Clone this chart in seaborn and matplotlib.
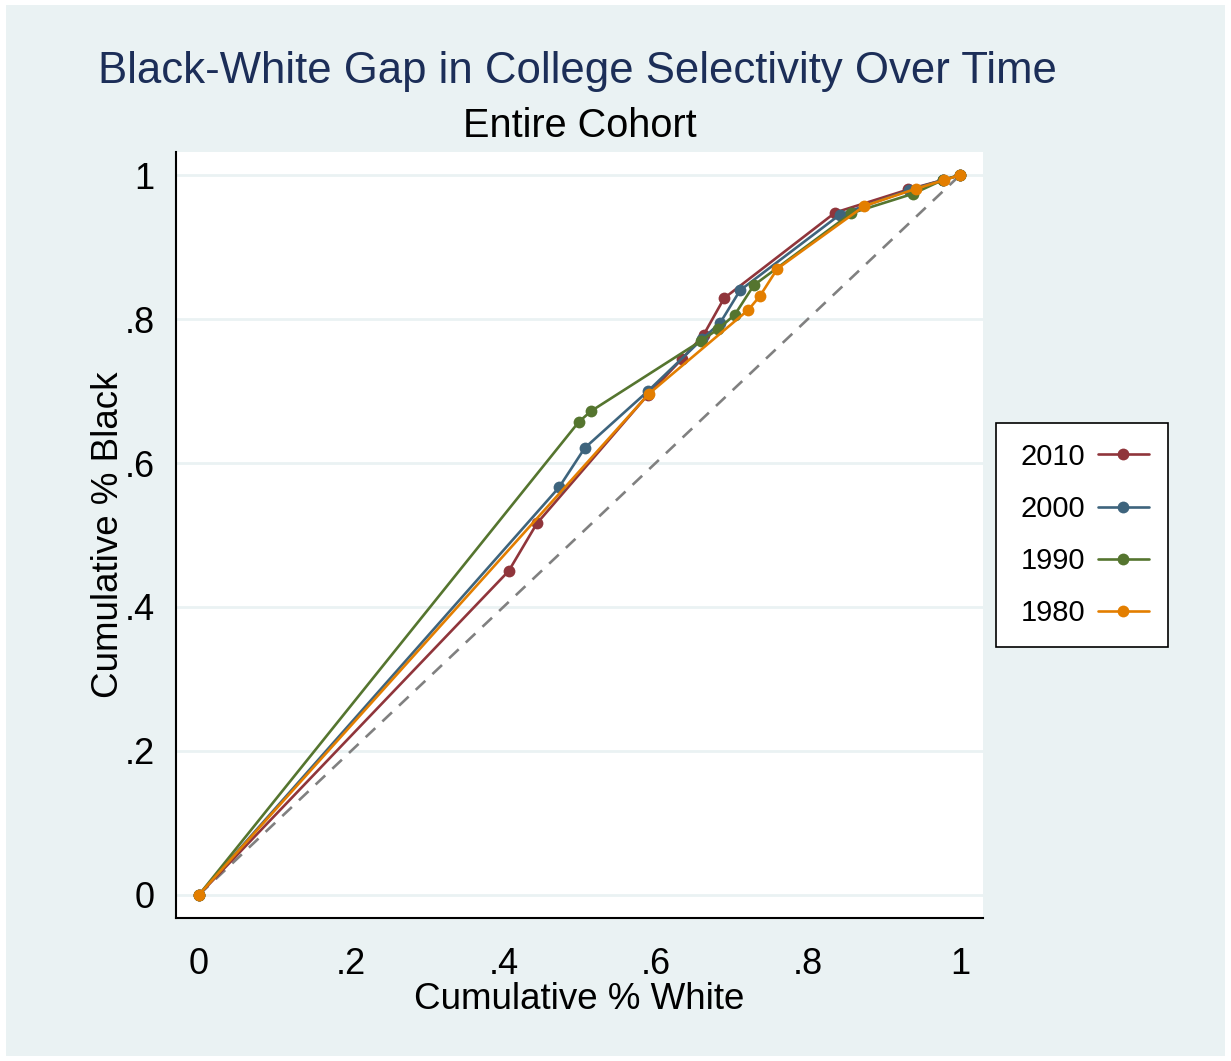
import matplotlib
matplotlib.use("Agg")
import matplotlib.pyplot as plt
import seaborn as sns
import pandas as pd
from matplotlib.patches import Rectangle

years = ["2010", "2000", "1990", "1980"]
white_2010 = [0, 0.407, 0.444, 0.590, 0.635, 0.663, 0.690, 0.836, 0.932, 0.977, 1.0]
black_2010 = [0, 0.450, 0.516, 0.695, 0.745, 0.778, 0.829, 0.948, 0.980, 0.993, 1.0]
white_2000 = [0, 0.473, 0.507, 0.590, 0.661, 0.685, 0.711, 0.842, 0.933, 0.977, 1.0]
black_2000 = [0, 0.566, 0.621, 0.700, 0.772, 0.795, 0.840, 0.945, 0.979, 0.993, 1.0]
white_1990 = [0, 0.499, 0.515, 0.660, 0.682, 0.704, 0.729, 0.857, 0.938, 0.977, 1.0]
black_1990 = [0, 0.657, 0.672, 0.770, 0.786, 0.806, 0.847, 0.947, 0.974, 0.993, 1.0]
white_1980 = [0, 0.591, 0.722, 0.737, 0.760, 0.874, 0.942, 0.979, 1.0]
black_1980 = [0, 0.696, 0.813, 0.832, 0.870, 0.957, 0.981, 0.993, 1.0]
diag = [0, 1]

colors = {"2010": "#90353B", "2000": "#3E647D", "1990": "#55752F", "1980": "#E37E00"}
bg = "#EAF2F3"

series = {"2010": (white_2010, black_2010), "2000": (white_2000, black_2000),
          "1990": (white_1990, black_1990), "1980": (white_1980, black_1980)}
rows = []
for yr in years:
    wx, by = series[yr]
    for i, (a, b) in enumerate(zip(wx, by)):
        rows.append({"year": yr, "white": a, "black": b, "order": i})
df = pd.DataFrame(rows)

sns.set_style("white")
plt.rcParams["font.family"] = ["Liberation Sans", "DejaVu Sans"]
plt.rcParams["text.color"] = "black"
plt.rcParams["axes.labelcolor"] = "black"

fig = plt.figure(figsize=(12.31, 10.61), dpi=100)
fig.patch.set_facecolor("white")
fig.patches.append(Rectangle((0.005, 0.005), 0.99, 0.99, transform=fig.transFigure,
                             facecolor=bg, edgecolor="none", zorder=-10))
ax = fig.add_axes([0.143, 0.1348, 0.6555, 0.7219])
ax.set_facecolor("white")

ax.plot(diag, diag, color="#808080", lw=1.9, ls=(0, (5, 3.7)), zorder=1)

sns.lineplot(data=df, x="white", y="black", hue="year", hue_order=years,
             palette=colors, marker="o", markersize=8.5, markeredgewidth=0,
             linewidth=1.9, sort=False, estimator=None, ax=ax, zorder=3)

ax.set_xlim(-0.030, 1.030)
ax.set_ylim(-0.032, 1.032)
ticks = [0, 0.2, 0.4, 0.6, 0.8, 1.0]
labels = ["0", ".2", ".4", ".6", ".8", "1"]
ax.set_xticks(ticks)
ax.set_xticklabels(labels)
ax.set_yticks(ticks)
ax.set_yticklabels(labels)
for t in ticks:
    ax.axhline(t, color=bg, lw=2, zorder=0)
ax.tick_params(axis="both", direction="out", length=10.5, width=1.5, labelsize=26,
               color="black", labelcolor="black")
ax.tick_params(axis="x", pad=10.5)
ax.tick_params(axis="y", pad=5)
for s in ["top", "right"]:
    ax.spines[s].set_visible(False)
for s in ["left", "bottom"]:
    ax.spines[s].set_color("black")
    ax.spines[s].set_linewidth(1.5)

ax.set_xlabel("Cumulative % White", fontsize=26.5, labelpad=0, color="black")
ax.set_ylabel("Cumulative % Black", fontsize=26.5, labelpad=-1, color="black")

fig.text(0.469, 0.933, "Black-White Gap in College Selectivity Over Time",
         ha="center", va="center", fontsize=31.5, color="#1C2E58")
fig.text(0.471, 0.881, "Entire Cohort", ha="center", va="center", fontsize=28.5,
         color="black")

leg = ax.legend(title=None, loc="center left", bbox_to_anchor=(1.016, 0.5),
                fontsize=21, frameon=True, fancybox=False, markerfirst=False,
                handlelength=1.72, labelspacing=0.83, borderpad=0.68,
                handletextpad=0.62, borderaxespad=0, framealpha=1)
leg.get_frame().set_edgecolor("black")
leg.get_frame().set_linewidth(1.2)
leg.get_frame().set_facecolor("white")
for txt in leg.get_texts():
    txt.set_x(5)
    txt.set_color("black")

fig.savefig("out.png", dpi=100, facecolor=fig.get_facecolor())
